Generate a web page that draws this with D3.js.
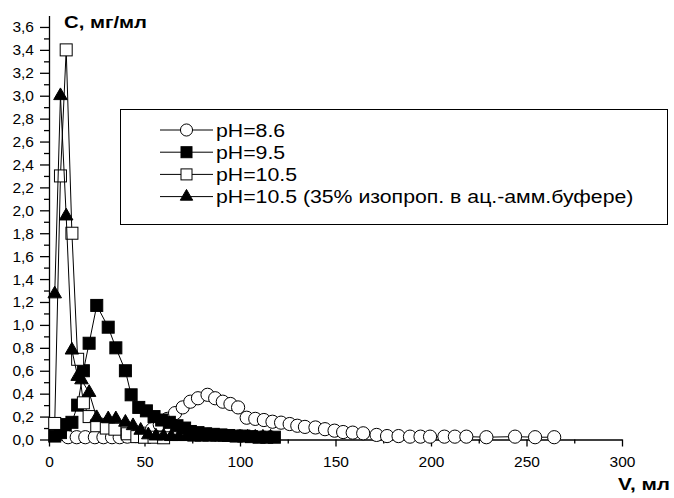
<!DOCTYPE html>
<html>
<head>
<meta charset="utf-8">
<title>C(V)</title>
<style>
  body { margin: 0; background: #fff; }
  svg { display: block; font-family: "Liberation Sans", Arial, sans-serif; }
  .axis path, .axis line { stroke: #000; stroke-width: 1.3; }
  .axis text { font-size: 15.5px; fill: #000; font-family: "Liberation Sans", Arial, sans-serif; }
  .ttl { font-size: 17px; font-weight: bold; }
  .leg text { font-size: 18.5px; }
</style>
</head>
<body>
<div id="chart"></div>
<script src="https://cdn.jsdelivr.net/npm/d3@7"></script>
<script>

var width = 674,
    height = 498;

// pH=8.6 (open circles)
var v86 = [10, 14.5, 19, 24, 28.5, 33, 37, 41, 45.5, 50, 54, 58, 62, 66, 70, 74, 78, 83, 87, 91, 95, 99, 103.5, 108, 112.5, 117, 121.5, 126, 130, 134, 139.5, 144.5, 149.5, 154, 159, 164.5, 171.5, 177, 183, 189, 194.5, 199.5, 207, 212.5, 218.5, 229, 244, 254.5, 264.5];
var c86 = [0.02, 0.02, 0.02, 0.02, 0.02, 0.02, 0.02, 0.025, 0.03, 0.05, 0.09, 0.13, 0.18, 0.23, 0.28, 0.33, 0.36, 0.39, 0.36, 0.33, 0.31, 0.28, 0.19, 0.18, 0.17, 0.155, 0.147, 0.135, 0.12, 0.11, 0.105, 0.09, 0.077, 0.065, 0.06, 0.054, 0.04, 0.03, 0.03, 0.025, 0.025, 0.025, 0.025, 0.025, 0.025, 0.02, 0.025, 0.02, 0.02];

// pH=9.5 (filled squares)
var v95 = [3, 6, 8.5, 12, 15, 18, 21, 25, 31, 35, 40, 43, 47, 51, 55, 59, 63, 67, 71, 74, 78, 82, 86, 90, 94, 98, 102, 106, 110, 114, 118];
var c95 = [0.03, 0.06, 0.13, 0.15, 0.3, 0.6, 0.84, 1.17, 0.98, 0.8, 0.6, 0.39, 0.28, 0.25, 0.2, 0.17, 0.15, 0.12, 0.1, 0.07, 0.06, 0.05, 0.045, 0.04, 0.035, 0.03, 0.03, 0.025, 0.02, 0.02, 0.02];

// pH=10.5 (open squares)
var v105 = [3, 6, 9, 12, 15, 18, 21, 25, 30, 34.5, 41, 46, 50, 55, 60];
var c105 = [0.14, 2.3, 3.4, 1.8, 0.7, 0.32, 0.2, 0.12, 0.1, 0.09, 0.05, 0.025, 0.02, 0.02, 0.015];

// pH=10.5, 35% isopropanol (filled triangles)
var v105i = [3, 6, 9, 12, 15, 17, 21, 25, 31, 35, 40, 44, 48, 52, 56, 60, 64, 68, 72, 76, 80, 84, 88, 92, 96, 100, 104, 108, 112, 116];
var c105i = [1.27, 3.0, 1.95, 0.78, 0.55, 0.52, 0.41, 0.19, 0.18, 0.18, 0.15, 0.12, 0.08, 0.04, 0.03, 0.03, 0.025, 0.025, 0.025, 0.02, 0.02, 0.02, 0.02, 0.02, 0.02, 0.02, 0.02, 0.02, 0.02, 0.02];

var yTicks = d3.range(0, 3.61, 0.2);
var xTicks = [0, 50, 100, 150, 200, 250, 300];

var labels = ["pH=8.6", "pH=9.5", "pH=10.5", "pH=10.5 (35% изопроп. в ац.-амм.буфере)"];

var series = [
  { v: v86, c: c86, sym: "circle", fill: "#fff" },
  { v: v95, c: c95, sym: "square", fill: "#000" },
  { v: v105, c: c105, sym: "square", fill: "#fff" },
  { v: v105i, c: c105i, sym: "triangle", fill: "#000" }
];

var x = d3.scaleLinear().domain([0, 300]).range([49, 622]);
var y = d3.scaleLinear().domain([0, 3.7]).range([439.5, 15.5]);

var svg = d3.select("#chart").append("svg")
    .attr("width", width)
    .attr("height", height);

var fmt = function(d) { return d3.format(".1f")(d).replace(".", ","); };

// axes
svg.append("g").attr("class", "axis")
    .attr("transform", "translate(49,0)")
    .call(d3.axisLeft(y).tickValues(yTicks).tickFormat(fmt).tickSize(9).tickPadding(6).tickSizeOuter(0));
svg.append("g").attr("class", "axis")
    .attr("transform", "translate(49,0)")
    .call(d3.axisLeft(y).tickValues(d3.range(0.1, 3.7, 0.2)).tickFormat("").tickSize(5).tickSizeOuter(0))
    .select(".domain").remove();

svg.append("g").attr("class", "axis")
    .attr("transform", "translate(0,439.5)")
    .call(d3.axisBottom(x).tickValues(xTicks).tickFormat(d3.format("d")).tickSize(7).tickSizeOuter(0))
    .selectAll("text").attr("y", 27.5).attr("dy", 0);
svg.append("g").attr("class", "axis")
    .attr("transform", "translate(0,439.5)")
    .call(d3.axisBottom(x).tickValues([25, 75, 125, 175, 225, 275]).tickFormat("").tickSize(4).tickSizeOuter(0))
    .select(".domain").remove();

svg.append("text").attr("class", "ttl").attr("x", 64).attr("y", 28)
    .attr("textLength", 83).attr("lengthAdjust", "spacingAndGlyphs").text("C, мг/мл");
svg.append("text").attr("class", "ttl").attr("x", 618).attr("y", 490)
    .attr("textLength", 52).attr("lengthAdjust", "spacingAndGlyphs").text("V, мл");

function marker(g, sym, fill, s) {
  if (sym === "circle") {
    g.append("circle").attr("r", s * 0.55).attr("fill", fill).attr("stroke", "#000").attr("stroke-width", 1);
  } else if (sym === "square") {
    g.append("rect").attr("x", -s / 2).attr("y", -s / 2).attr("width", s).attr("height", s)
      .attr("fill", fill).attr("stroke", "#000").attr("stroke-width", 1);
  } else {
    g.append("path").attr("d", d3.symbol(d3.symbolTriangle, s * s * 0.55)())
      .attr("fill", fill).attr("stroke", "#000").attr("stroke-width", 1);
  }
}

var line = d3.line().x(function(d) { return x(d[0]); }).y(function(d) { return y(d[1]); });

series.forEach(function(s) {
  var pts = s.v.map(function(v, i) { return [v, s.c[i]]; });
  svg.append("path").attr("d", line(pts)).attr("fill", "none").attr("stroke", "#000").attr("stroke-width", 1);
  svg.append("g").selectAll("g").data(pts).enter().append("g")
    .attr("transform", function(d) { return "translate(" + x(d[0]) + "," + y(d[1]) + ")"; })
    .each(function() { marker(d3.select(this), s.sym, s.fill, 12); });
});

// legend
var leg = svg.append("g").attr("class", "leg");
leg.append("rect").attr("x", 120.5).attr("y", 109.5).attr("width", 547).attr("height", 115)
  .attr("fill", "#fff").attr("stroke", "#000").attr("stroke-width", 1);
labels.forEach(function(l, i) {
  var ly = 130 + i * 22.2;
  leg.append("line").attr("x1", 160).attr("x2", 213).attr("y1", ly).attr("y2", ly).attr("stroke", "#000");
  var g = leg.append("g").attr("transform", "translate(186.5," + ly + ")");
  marker(g, series[i].sym, series[i].fill, 11);
  leg.append("text").attr("transform", "translate(216," + (ly + 6.7) + ") scale(1.15,1)").text(l);
});

</script>
</body>
</html>
